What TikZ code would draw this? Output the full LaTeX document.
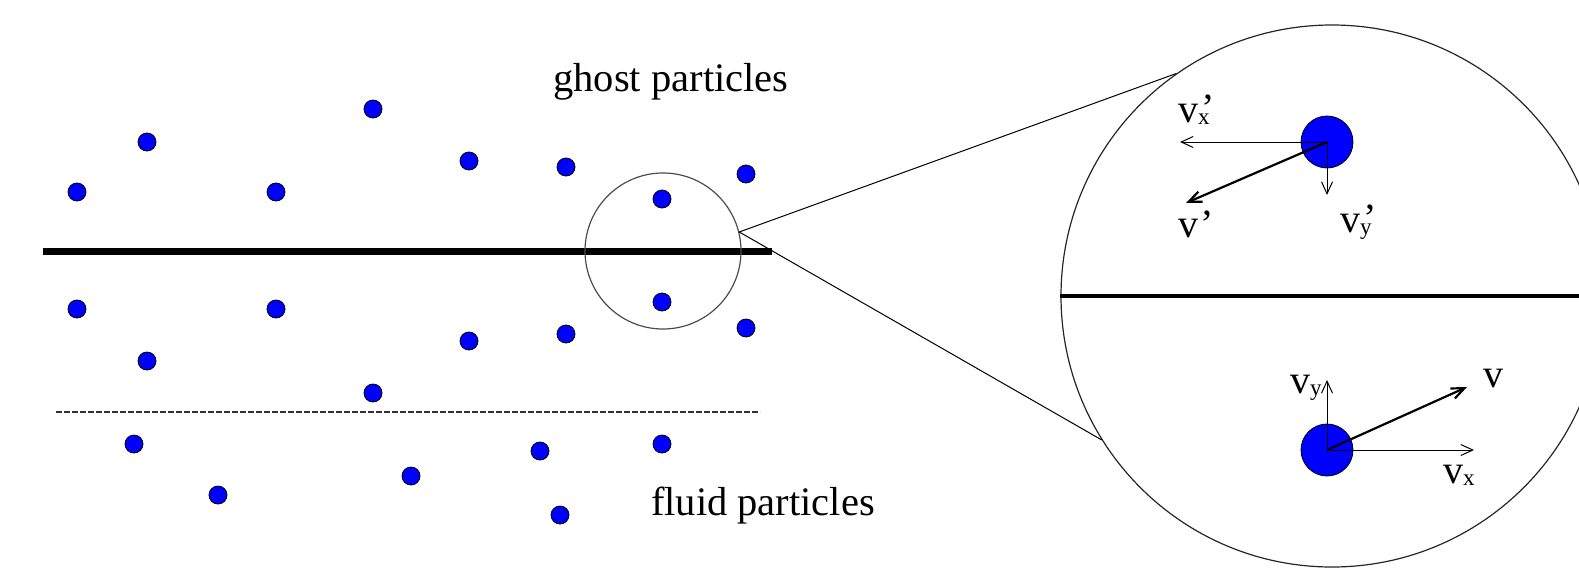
\documentclass[tikz,border=0pt]{standalone}
\usepackage{fontspec}
\setmainfont{Liberation Serif}
\usetikzlibrary{arrows.meta}
\definecolor{partblue}{RGB}{0,0,255}
\tikzset{
  dot/.style={circle,draw=black,fill=partblue,line width=0.8pt,minimum size=18pt,inner sep=0pt},
  bigdot/.style={circle,draw=black,fill=partblue,line width=0.8pt,minimum size=52pt,inner sep=0pt},
  lens/.style={circle,draw=black!70,line width=1.2pt,inner sep=0pt},
  comp/.style={-{Straight Barb[length=12pt,width=11pt]},line width=1pt},
  vel/.style={-{Straight Barb[length=13pt,width=11pt]},line width=2.2pt},
  bigtext/.style={anchor=base,inner sep=0pt,font=\fontsize{40.5}{48}\selectfont},
  vlabel/.style={anchor=base west,inner sep=0pt,font=\fontsize{40}{48}\selectfont}
}
\newcommand{\vsub}[1]{\raisebox{-2.5pt}{\fontsize{23}{23}\selectfont #1}}
\newcommand{\vcomp}[1]{v\vsub{#1}}
\newcommand{\vcompp}[1]{v\rlap{\vsub{#1}}\kern3pt\raisebox{1pt}{'}}

\begin{document}
\begin{tikzpicture}[x=1pt,y=-1pt]
  \useasboundingbox (0,0) rectangle (1579,568);
  \clip (0,0) rectangle (1579,568);
  % walls
  \draw[line width=7pt] (43,251) -- (772,251);
  \draw[line width=1.4pt,black!80,dash pattern=on 6pt off 2pt] (56,412) -- (760,412);
  % ghost particles
  \foreach \x/\y [count=\i] in {77/192,147/142,276/192,373/109,469/161,566/167,662/199,746/174,
                               77/309,147/361,276/309,373/393,469/341,566/334,662/302,746/328}
    \node[dot] (g\i) at (\x,\y) {};
  % fluid particles
  \foreach \x/\y [count=\i] in {134/444,218/495,411/476,540/451,560/515,662/444}
    \node[dot] (f\i) at (\x,\y) {};
  \node[bigtext] (ghostlbl) at (671,91) {ghost particles};
  \node[bigtext] (fluidlbl) at (763,515) {fluid particles};
  % magnifier
  \node[lens,minimum size=156pt] (zoom) at (663,251) {};
  \node[lens,draw=black!85,minimum size=542pt] (big) at (1332,296) {};
  \draw[line width=1pt] (zoom.14) -- (big.125);
  \draw[line width=1pt] (zoom.14) -- (big.212);
  \draw[line width=4pt] (big.west) -- (1600,296);
  % reflected particle
  \node[bigdot] (pup) at (1327,142) {};
  \coordinate (vxp) at (1180,142);
  \coordinate (vyp) at (1327,195);
  \coordinate (vp) at (1186,203);
  \draw[comp] (pup.center) -- (vxp);
  \draw[comp] (pup.center) -- (vyp);
  \draw[vel] (pup.center) -- (vp);
  \node[vlabel] (lvxp) at (1178,122) {\vcompp{x}};
  \node[vlabel] (lvp) at (1178,237) {v\kern2pt'};
  \node[vlabel] (lvyp) at (1340,232) {\vcompp{y}};
  % real particle
  \node[bigdot] (pdown) at (1327,450) {};
  \coordinate (vx) at (1474,450);
  \coordinate (vy) at (1327,380);
  \coordinate (v) at (1467,387);
  \draw[comp] (pdown.center) -- (vx);
  \draw[comp] (pdown.center) -- (vy);
  \draw[vel] (pdown.center) -- (v);
  \node[vlabel] (lvy) at (1290,393) {\vcomp{y}};
  \node[vlabel] (lv) at (1483,387) {v};
  \node[vlabel] (lvx) at (1443,483) {\vcomp{x}};
\end{tikzpicture}
\end{document}
